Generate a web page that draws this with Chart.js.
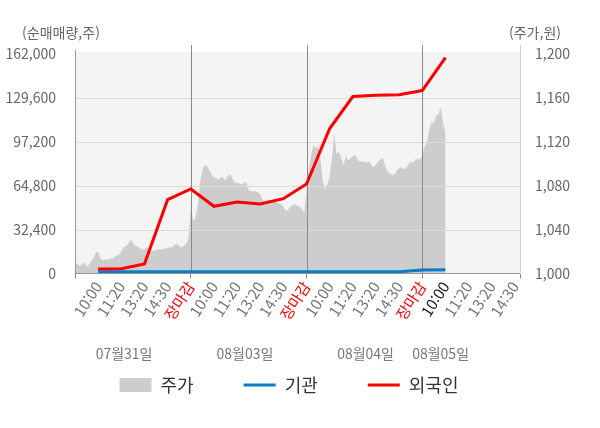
<!DOCTYPE html>
<html lang="ko">
<head>
<meta charset="utf-8">
<script src="https://cdn.jsdelivr.net/npm/chart.js@4.4.1/dist/chart.umd.min.js"></script>
<style>
  html, body { margin: 0; padding: 0; background: #fff; }
  #wrap { width: 600px; height: 428px; }
</style>
</head>
<body>
<div id="wrap"><canvas id="grafico"></canvas></div>
<script>
// 가로축 단위: 라벨 한 칸 = 1, 하루 = 5칸 (09:00 ~ 장마감)
const tickLabels = [
  '10:00', '11:20', '13:20', '14:30', '장마감',
  '10:00', '11:20', '13:20', '14:30', '장마감',
  '10:00', '11:20', '13:20', '14:30', '장마감',
  '10:00', '11:20', '13:20', '14:30'
];
const dateLabels = ['07월31일', '08월03일', '08월04일', '08월05일'];

// 주가 (원), 0.1칸 간격
const priceValues = [
  1009, 1009, 1007, 1008, 1010, 1006, 1008, 1011, 1014, 1019,
  1020, 1014, 1012, 1013, 1012, 1014, 1013, 1015, 1016, 1017,
  1020, 1024, 1025, 1027, 1031, 1028, 1025, 1025, 1023, 1022,
  1022, 1024, 1022, 1020, 1021, 1021, 1022, 1022, 1022, 1023,
  1023, 1024, 1024, 1026, 1027, 1025, 1024, 1025, 1027, 1031,
  1060, 1048, 1050, 1062, 1082, 1094, 1099, 1098, 1094, 1090,
  1088, 1087, 1085, 1088, 1087, 1085, 1089, 1090, 1087, 1083,
  1083, 1082, 1081, 1083, 1083, 1076, 1075, 1075, 1075, 1074,
  1072, 1067, 1066, 1067, 1067, 1066, 1066, 1065, 1064, 1063,
  1061, 1057, 1058, 1061, 1062, 1063, 1062, 1061, 1059, 1055,
  1075, 1094, 1108, 1117, 1114, 1116, 1104, 1085, 1076, 1081,
  1088, 1105, 1128, 1109, 1111, 1105, 1099, 1107, 1103, 1105,
  1107, 1108, 1104, 1102, 1102, 1102, 1101, 1102, 1099, 1097,
  1099, 1102, 1104, 1105, 1098, 1093, 1091, 1090, 1090, 1094,
  1096, 1097, 1095, 1096, 1099, 1102, 1101, 1104, 1104, 1104,
  1107, 1116, 1119, 1131, 1138, 1137, 1144, 1145, 1152, 1137,
  1129
];
const PRICE_STEP = 0.1;

// 순매매량 (주), 라벨 위치 1 ~ 16
const foreignValues = [
  3300, 3500, 7000, 54500, 62400,
  49600, 52800, 51300, 55200, 66000,
  107000, 130600, 131600, 132000, 135000,
  159300
];
const institutionValues = [
  1200, 1200, 1200, 1200, 1200,
  1200, 1200, 1200, 1200, 1200,
  1200, 1200, 1200, 1300, 2600,
  2800
];

const X_MAX = 19.22;
const dayBreaks = [5, 10, 15];
const datePositions = [2.12, 7.34, 12.55, 15.79];

Chart.defaults.font.family = "'Noto Sans CJK KR', 'Noto Sans', sans-serif";

const xTickValues = [0].concat(tickLabels.map((_, i) => i + 1), [X_MAX]);

function corDoRotulo(i) {
  const txt = tickLabels[i - 1];
  if (txt === '장마감') return '#ff0000';
  if (i === 16) return '#222';
  return '#777';
}

// 배경, 격자선, 단위/날짜 텍스트
const fundo = {
  id: 'fundo',
  beforeDraw(chart) {
    const { ctx, chartArea: a } = chart;
    ctx.save();
    ctx.fillStyle = '#f4f4f4';
    ctx.fillRect(a.left, a.top - 2, a.right - a.left, a.bottom - a.top + 2);
    ctx.restore();
  },
  afterDatasetDraw(chart, args) {
    if (args.index !== 0) return;
    const { ctx, chartArea: a, scales } = chart;
    ctx.save();
    ctx.lineWidth = 1;
    ctx.strokeStyle = '#dcdcdc';
    scales.y.ticks.forEach(t => {
      if (t.value === scales.y.max || t.value === scales.y.min) return;
      const y = Math.round(scales.y.getPixelForValue(t.value)) + 0.5;
      ctx.beginPath(); ctx.moveTo(a.left, y); ctx.lineTo(a.right, y); ctx.stroke();
    });
    // 오른쪽 축선
    ctx.strokeStyle = '#d2d2d2';
    let xr = Math.round(a.right) + 0.5;
    ctx.beginPath(); ctx.moveTo(xr, a.top - 9); ctx.lineTo(xr, a.bottom); ctx.stroke();
    // 날짜 구분선
    ctx.strokeStyle = '#8a8a8a';
    dayBreaks.forEach(v => {
      const x = Math.round(scales.x.getPixelForValue(v)) + 0.5;
      ctx.beginPath(); ctx.moveTo(x, a.top - 9); ctx.lineTo(x, a.bottom); ctx.stroke();
    });
    // 왼쪽, 아래 축선
    ctx.strokeStyle = '#999';
    const xl = Math.round(a.left) + 0.5;
    ctx.beginPath(); ctx.moveTo(xl, a.top - 4); ctx.lineTo(xl, a.bottom); ctx.stroke();
    const yb = Math.round(a.bottom) - 0.5;
    ctx.beginPath(); ctx.moveTo(a.left, yb); ctx.lineTo(a.right, yb); ctx.stroke();
    ctx.restore();
  },
  afterDraw(chart) {
    const { ctx, chartArea: a, scales } = chart;
    ctx.save();
    ctx.font = "14px 'Noto Sans CJK KR'";
    ctx.fillStyle = '#666';
    ctx.textAlign = 'center';
    ctx.textBaseline = 'middle';
    ctx.fillText('(순매매량,주)', 61, 33);
    ctx.fillText('(주가,원)', 535, 33);
    ctx.fillStyle = '#777';
    dateLabels.forEach((d, i) => {
      ctx.fillText(d, scales.x.getPixelForValue(datePositions[i]), a.bottom + 80);
    });
    ctx.restore();
  }
};

new Chart(ctx = document.getElementById('grafico').getContext('2d'), {
  type: 'line',
  data: {
    datasets: [
      {
        label: '주가',
        data: priceValues.map((v, i) => ({ x: i * PRICE_STEP, y: v })),
        yAxisID: 'y2',
        fill: 'start',
        backgroundColor: '#cdcdcd',
        borderWidth: 0,
        pointRadius: 0,
        tension: 0,
        order: 3,
        legendColor: '#cdcdcd'
      },
      {
        label: '기관',
        data: institutionValues.map((v, i) => ({ x: i + 1, y: v })),
        yAxisID: 'y',
        borderColor: '#0a7ccb',
        borderWidth: 3,
        pointRadius: 0,
        fill: false,
        order: 2,
        legendColor: '#0a7ccb'
      },
      {
        label: '외국인',
        data: foreignValues.map((v, i) => ({ x: i + 1, y: v })),
        yAxisID: 'y',
        borderColor: '#ff0000',
        borderWidth: 3,
        pointRadius: 0,
        fill: false,
        order: 1,
        legendColor: '#ff0000'
      }
    ]
  },
  options: {
    responsive: true,
    maintainAspectRatio: false,
    animation: false,
    layout: { padding: { top: 54, bottom: 24, left: 0, right: 22 } },
    plugins: {
      tooltip: { enabled: false },
      legend: {
        position: 'bottom',
        labels: {
          usePointStyle: true,
          pointStyleWidth: 32,
          boxHeight: 14,
          padding: 50,
          color: '#333',
          font: { size: 18 },
          generateLabels: chart => chart.data.datasets.map((ds, i) => ({
            text: ds.label,
            fillStyle: ds.legendColor,
            strokeStyle: ds.legendColor,
            lineWidth: i === 0 ? 0 : 3,
            pointStyle: i === 0 ? 'rect' : 'line',
            fontColor: '#333',
            hidden: false,
            datasetIndex: i
          }))
        }
      }
    },
    scales: {
      x: {
        type: 'linear',
        min: 0,
        max: X_MAX,
        afterBuildTicks: s => { s.ticks = xTickValues.map(v => ({ value: v })); },
        afterFit: s => { s.height = 52.5; },
        grid: {
          drawOnChartArea: false,
          drawTicks: true,
          tickLength: 5,
          color: c => {
            const v = c.tick ? c.tick.value : -1;
            return (v === 0 || v === X_MAX || dayBreaks.includes(v)) ? '#888' : 'rgba(0,0,0,0)';
          }
        },
        border: { display: false },
        ticks: {
          autoSkip: false,
          minRotation: 57,
          maxRotation: 57,
          padding: 0,
          font: { size: 15 },
          color: c => corDoRotulo(c.index),
          callback: (v, i) => (i >= 1 && i <= tickLabels.length) ? tickLabels[i - 1] : ''
        }
      },
      y: {
        position: 'left',
        min: 0,
        max: 162000,
        afterFit: s => { s.width = 75; },
        grid: { display: false },
        border: { display: false },
        ticks: {
          stepSize: 32400,
          padding: 11,
          color: '#666',
          font: { size: 14 },
          callback: v => v.toLocaleString('en-US')
        }
      },
      y2: {
        position: 'right',
        min: 1000,
        max: 1200,
        afterFit: s => { s.width = 58; },
        grid: { display: false },
        border: { display: false },
        ticks: {
          stepSize: 40,
          padding: 7,
          color: '#666',
          font: { size: 14 },
          callback: v => v.toLocaleString('en-US')
        }
      }
    }
  },
  plugins: [fundo]
});
</script>
</body>
</html>
